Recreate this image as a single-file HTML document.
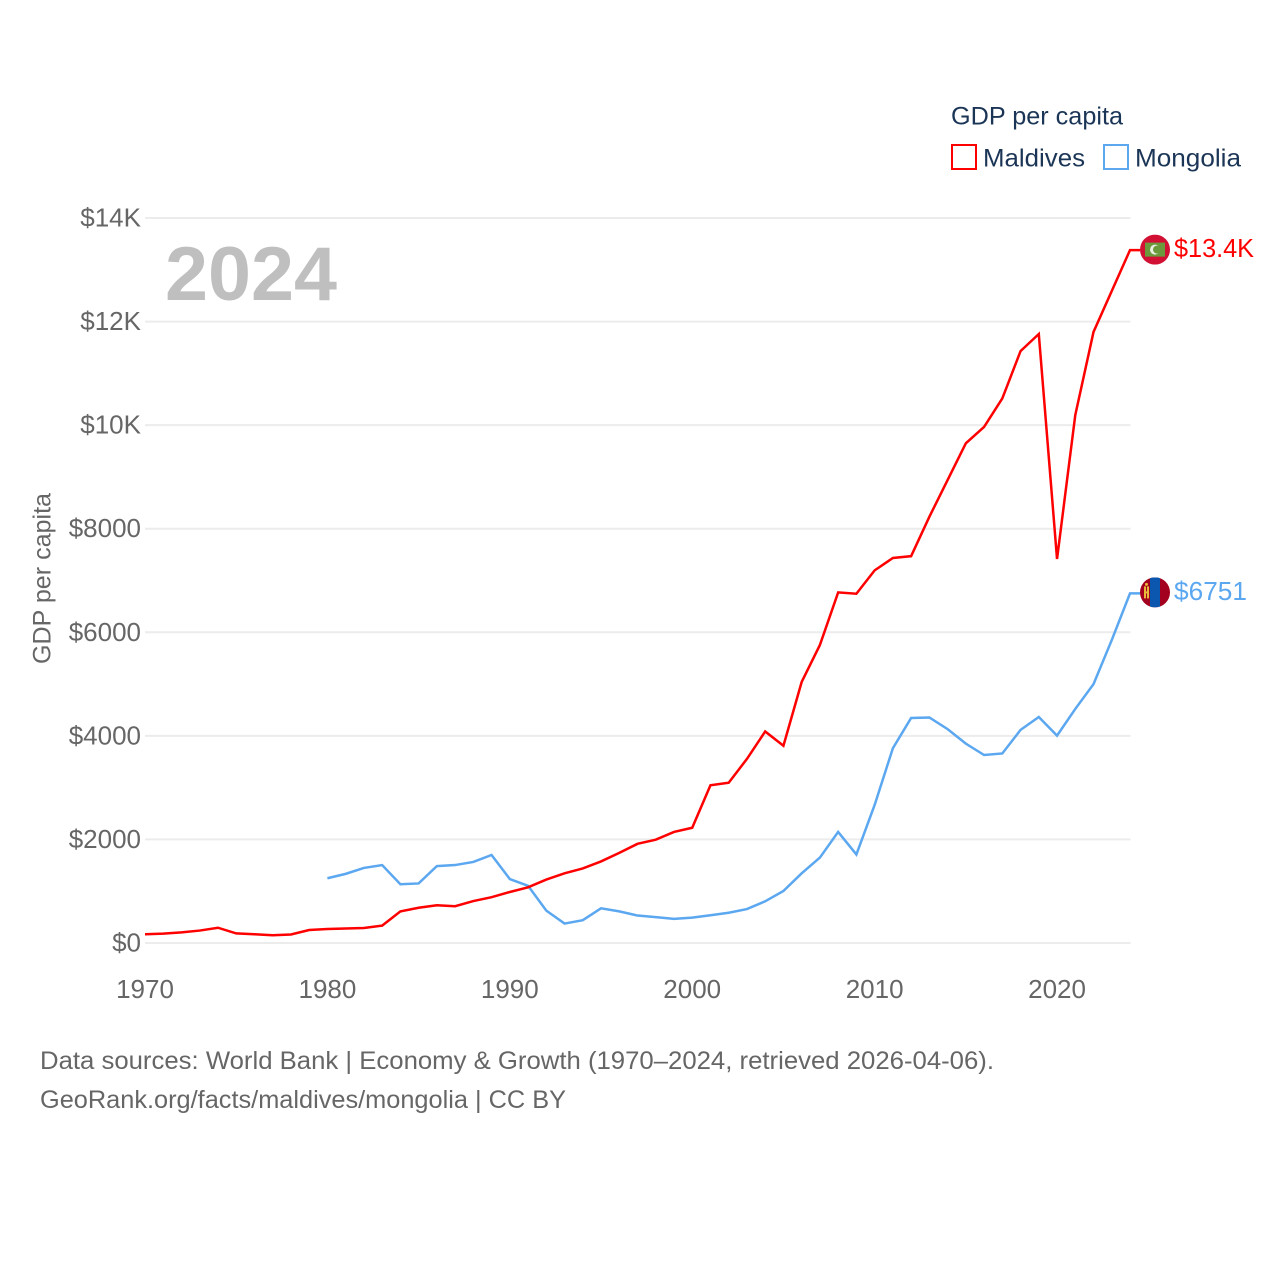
<!DOCTYPE html>
<html>
<head>
<meta charset="utf-8">
<style>
html,body{margin:0;padding:0;background:#fff;}
svg{display:block;}
text{font-family:"Liberation Sans",sans-serif;}
</style>
</head>
<body>
<svg id="chart" width="1280" height="1280" viewBox="0 0 1280 1280" xmlns="http://www.w3.org/2000/svg">
<defs>
<clipPath id="clip-mv"><circle cx="0" cy="0" r="15"/></clipPath>
<clipPath id="clip-mn"><circle cx="0" cy="0" r="15"/></clipPath>
</defs>
<rect width="1280" height="1280" fill="#fff"/>
<g id="grid"></g>
<g id="yticks"></g>
<g id="xticks"></g>
<text x="165" y="300" font-size="76" font-weight="bold" fill="#bfbfbf" textLength="172" lengthAdjust="spacingAndGlyphs">2024</text>
<text transform="translate(50.5,664) rotate(-90)" font-size="25" fill="#666" textLength="171" lengthAdjust="spacingAndGlyphs">GDP per capita</text>
<g id="series"></g>
<g id="flag-mv">
<g clip-path="url(#clip-mv)">
<rect x="-15" y="-15" width="30" height="30" fill="#d21034"/>
<rect x="-10" y="-7" width="20" height="14" fill="#6a9a3c"/>
<circle cx="0" cy="0" r="5" fill="#e8efe0"/>
<circle cx="2" cy="0" r="4" fill="#6a9a3c"/>
</g>
</g>
<g id="flag-mn">
<g clip-path="url(#clip-mn)">
<rect x="-15" y="-15" width="30" height="30" fill="#a3001f"/>
<rect x="-5" y="-15" width="10" height="30" fill="#0b57b0"/>
<rect x="-11" y="-6" width="2" height="12" fill="#e8b93a"/>
<rect x="-8" y="-6" width="2" height="12" fill="#e8b93a"/>
<rect x="-11" y="-1" width="5" height="2" fill="#e8b93a"/>
<circle cx="-8.5" cy="-8" r="1.5" fill="#e8b93a"/>
</g>
</g>
<text id="label-mv" x="1174" font-size="25.5" fill="#ff0000" textLength="80" lengthAdjust="spacingAndGlyphs"></text>
<text id="label-mn" x="1174" font-size="25.5" fill="#5ba7f0" textLength="73" lengthAdjust="spacingAndGlyphs"></text>
<text x="951" y="124.5" font-size="25" fill="#1b3556" textLength="172" lengthAdjust="spacingAndGlyphs">GDP per capita</text>
<g>
<rect x="952" y="145" width="24" height="24" fill="none" stroke="#ff0000" stroke-width="2"/>
<text x="983" y="166.5" font-size="25" fill="#1b3556" textLength="102" lengthAdjust="spacingAndGlyphs">Maldives</text>
</g>
<g>
<rect x="1104" y="145" width="24" height="24" fill="none" stroke="#5ba7f0" stroke-width="2"/>
<text x="1135" y="166.5" font-size="25" fill="#1b3556" textLength="106" lengthAdjust="spacingAndGlyphs">Mongolia</text>
</g>
<text x="40" y="1069" font-size="25" fill="#666" textLength="954" lengthAdjust="spacingAndGlyphs">Data sources: World Bank | Economy &amp; Growth (1970–2024, retrieved 2026-04-06).</text>
<text x="40" y="1108" font-size="25" fill="#666" textLength="526" lengthAdjust="spacingAndGlyphs">GeoRank.org/facts/maldives/mongolia | CC BY</text>
</svg>
<script>
const yTickValues = [0, 2000, 4000, 6000, 8000, 10000, 12000, 14000];
const yTickLabels = ["$0", "$2000", "$4000", "$6000", "$8000", "$10K", "$12K", "$14K"];
const xTickValues = [1970, 1980, 1990, 2000, 2010, 2020];
const xTickLabels = ["1970", "1980", "1990", "2000", "2010", "2020"];
const maldivesStartYear = 1970;
const maldivesValues = [170, 180, 205, 240, 295, 185, 170, 150, 165, 250, 270, 280, 290, 335, 610, 680, 730, 710, 810, 885, 985, 1075, 1225, 1345, 1440, 1575, 1740, 1915, 1995, 2145, 2225, 3045, 3095, 3555, 4085, 3810, 5040, 5755, 6770, 6745, 7195, 7435, 7470, 8230, 8940, 9650, 9965, 10515, 11430, 11760, 7415, 10195, 11800, 12590, 13380];
const mongoliaStartYear = 1980;
const mongoliaValues = [1250, 1335, 1450, 1505, 1135, 1150, 1485, 1505, 1565, 1700, 1235, 1105, 625, 375, 440, 670, 610, 530, 500, 465, 490, 535, 585, 655, 805, 1005, 1345, 1650, 2145, 1710, 2665, 3760, 4345, 4355, 4130, 3850, 3630, 3660, 4115, 4365, 4005, 4520, 5000, 5850, 6751];
const maldivesEndLabel = "$13.4K";
const mongoliaEndLabel = "$6751";

const NS = "http://www.w3.org/2000/svg";
function xScale(year) { return 145 + (year - 1970) * (1130 - 145) / 54; }
function yScale(value) { return 943 - value * (943 - 218) / 14000; }

const grid = document.getElementById("grid");
const yticks = document.getElementById("yticks");
const xticks = document.getElementById("xticks");
const series = document.getElementById("series");

yTickValues.forEach(function (v, i) {
  const line = document.createElementNS(NS, "line");
  
  
  line.setAttribute("x1", 145);
  line.setAttribute("x2", 1130.5);
  line.setAttribute("y1", yScale(v));
  line.setAttribute("y2", yScale(v));
  line.setAttribute("stroke", "#ececec");
  line.setAttribute("stroke-width", 2);
  grid.appendChild(line);
  const t = document.createElementNS(NS, "text");
  
  
  t.setAttribute("x", 141);
  t.setAttribute("y", yScale(v) + 8.5);
  t.setAttribute("text-anchor", "end");
  t.setAttribute("font-size", "26");
  t.setAttribute("fill", "#666");
  t.textContent = yTickLabels[i];
  yticks.appendChild(t);
});

xTickValues.forEach(function (v, i) {
  const t = document.createElementNS(NS, "text");
  
  
  t.setAttribute("x", xScale(v));
  t.setAttribute("y", 998);
  t.setAttribute("text-anchor", "middle");
  t.setAttribute("font-size", "26");
  t.setAttribute("fill", "#666");
  t.textContent = xTickLabels[i];
  xticks.appendChild(t);
});

function drawSeries(values, startYear, color, name) {
  const pts = values.map(function (v, i) { return xScale(startYear + i).toFixed(2) + "," + yScale(v).toFixed(2); });
  const last = values[values.length - 1];
  const lastX = xScale(startYear + values.length - 1);
  pts.push((lastX + 10).toFixed(2) + "," + yScale(last).toFixed(2));
  const p = document.createElementNS(NS, "polyline");
  
  
  p.setAttribute("points", pts.join(" "));
  p.setAttribute("fill", "none");
  p.setAttribute("stroke", color);
  p.setAttribute("stroke-width", 2.5);
  p.setAttribute("stroke-linejoin", "miter");
  series.appendChild(p);
  return yScale(last);
}

const mongoliaEndY = drawSeries(mongoliaValues, mongoliaStartYear, "#5ba7f0", "mongolia-line");
const maldivesEndY = drawSeries(maldivesValues, maldivesStartYear, "#ff0000", "maldives-line");

document.getElementById("flag-mv").setAttribute("transform", "translate(1155," + (maldivesEndY - 0.5) + ")");
document.getElementById("flag-mn").setAttribute("transform", "translate(1155," + (mongoliaEndY - 1) + ")");
const labelMv = document.getElementById("label-mv");
labelMv.setAttribute("y", maldivesEndY + 7);
labelMv.textContent = maldivesEndLabel;
const labelMn = document.getElementById("label-mn");
labelMn.setAttribute("y", mongoliaEndY + 6.5);
labelMn.textContent = mongoliaEndLabel;
</script>
</body>
</html>
